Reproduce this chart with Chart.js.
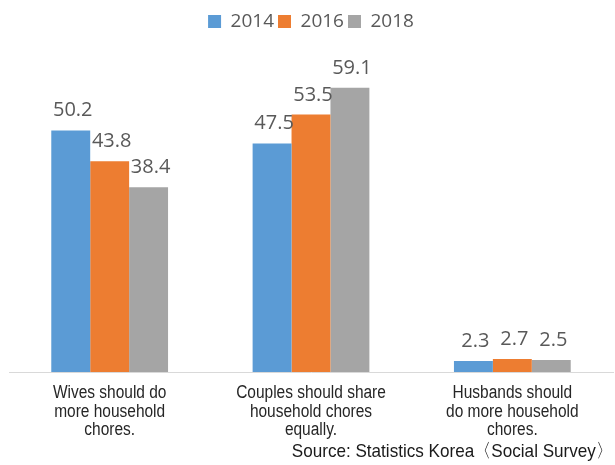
<!DOCTYPE html>
<html>
<head>
<meta charset="utf-8">
<script src="https://cdn.jsdelivr.net/npm/chart.js@4"></script>
<style>
  html, body { margin: 0; padding: 0; background: #fff; }
  #wrap { width: 615px; height: 465px; }
</style>
</head>
<body>
<div id="wrap"><canvas id="choresChart"></canvas></div>
<script>
const categories = [
  ['Wives should do', 'more household', 'chores.'],
  ['Couples should share', 'household chores', 'equally.'],
  ['Husbands should', 'do more household', 'chores.']
];
const years = ['2014', '2016', '2018'];
const values2014 = [50.2, 47.5, 2.3];
const values2016 = [43.8, 53.5, 2.7];
const values2018 = [38.4, 59.1, 2.5];
const colors = ['#5B9BD5', '#ED7D31', '#A5A5A5'];
const sourceNote = 'Source: Statistics Korea〈Social Survey〉';

const labelFont = "'Liberation Sans', Arial, sans-serif";
const numFont = "'Open Sans', 'DejaVu Sans', sans-serif";

// condensed text helper (no narrow face installed, so squeeze horizontally)
function narrowText(ctx, text, x, y, squeeze) {
  ctx.save();
  ctx.translate(x, y);
  ctx.scale(squeeze, 1);
  ctx.fillText(text, 0, 0);
  ctx.restore();
}

// value labels above each bar
const barValues = {
  id: 'barValues',
  afterDatasetsDraw(chart) {
    const ctx = chart.ctx;
    ctx.save();
    ctx.font = '20px ' + numFont;
    ctx.fillStyle = '#595959';
    ctx.textAlign = 'center';
    ctx.textBaseline = 'alphabetic';
    chart.data.datasets.forEach((ds, i) => {
      chart.getDatasetMeta(i).data.forEach((bar, j) => {
        ctx.fillText(ds.data[j].toFixed(1), bar.x + 2, bar.y - 14);
      });
    });
    ctx.restore();
  }
};

// multi-line category names under the axis + source note
const categoryText = {
  id: 'categoryText',
  afterDraw(chart) {
    const ctx = chart.ctx;
    const xScale = chart.scales.x;
    const base = chart.chartArea.bottom;
    ctx.save();
    ctx.fillStyle = '#262626';
    ctx.font = '18px ' + labelFont;
    ctx.textAlign = 'center';
    ctx.textBaseline = 'alphabetic';
    categories.forEach((lines, i) => {
      const cx = xScale.getPixelForTick(i);
      lines.forEach((line, k) => {
        narrowText(ctx, line, cx, base + 26 + k * 18.5, 0.86);
      });
    });
    ctx.font = '19px ' + labelFont;
    ctx.fillStyle = '#1a1a1a';
    ctx.textAlign = 'right';
    narrowText(ctx, sourceNote, chart.width - 2, 457, 0.9);
    ctx.restore();
  }
};

const ctx = document.getElementById('choresChart').getContext('2d');
new Chart(ctx, {
  type: 'bar',
  data: {
    labels: categories.map(c => c.join(' ')),
    datasets: [values2014, values2016, values2018].map((vals, i) => ({
      label: years[i],
      data: vals,
      backgroundColor: colors[i],
      categoryPercentage: 0.58,
      barPercentage: 1
    }))
  },
  options: {
    responsive: true,
    maintainAspectRatio: false,
    animation: false,
    layout: { padding: { top: 8, left: 9, right: 2, bottom: 85 } },
    plugins: {
      legend: {
        position: 'top',
        labels: {
          boxWidth: 13,
          boxHeight: 13,
          padding: 4,
          color: '#595959',
          font: { family: numFont, size: 19 }
        }
      },
      title: { display: false },
      tooltip: { enabled: false }
    },
    scales: {
      x: {
        grid: { display: false },
        border: { display: true, color: '#d9d9d9', width: 1 },
        ticks: { display: false }
      },
      y: {
        display: false,
        min: 0,
        max: 68.8
      }
    }
  },
  plugins: [barValues, categoryText]
});
</script>
</body>
</html>
